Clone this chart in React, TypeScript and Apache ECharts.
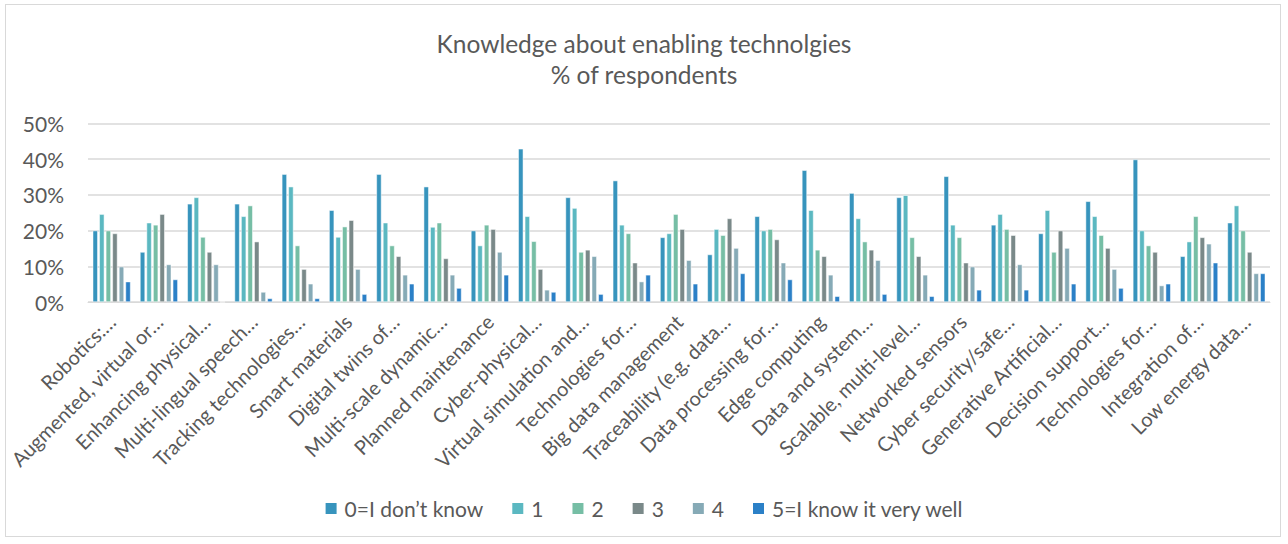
import React, { useEffect, useRef } from "react";
import * as echarts from "echarts";

const categories = [
  "Robotics:…",
  "Augmented, virtual or…",
  "Enhancing physical…",
  "Multi-lingual speech…",
  "Tracking technologies…",
  "Smart materials",
  "Digital twins of…",
  "Multi-scale dynamic…",
  "Planned maintenance",
  "Cyber-physical…",
  "Virtual simulation and…",
  "Technologies for…",
  "Big data management",
  "Traceability (e.g. data…",
  "Data processing for…",
  "Edge computing",
  "Data and system…",
  "Scalable, multi-level…",
  "Networked sensors",
  "Cyber security/safe…",
  "Generative Artificial…",
  "Decision support…",
  "Technologies for…",
  "Integration of…",
  "Low energy data…",
];

const seriesNames = ["0=I don\u2019t know", "1", "2", "3", "4", "5=I know it very well"];

const s0 = [20.0, 14.0, 27.5, 27.5, 35.8, 25.7, 35.8, 32.3, 20.0, 42.9, 29.3, 34.0, 18.1, 13.3, 24.0, 36.9, 30.5, 29.3, 35.2, 21.6, 19.2, 28.2, 39.9, 12.8, 22.2];
const s1 = [24.6, 22.2, 29.3, 24.0, 32.3, 18.2, 22.2, 21.0, 15.8, 24.0, 26.3, 21.6, 19.2, 20.4, 20.0, 25.7, 23.4, 29.9, 21.6, 24.6, 25.7, 24.0, 20.0, 16.9, 27.0];
const s2 = [20.0, 21.6, 18.2, 27.0, 15.8, 21.1, 15.8, 22.2, 21.6, 17.0, 14.0, 19.2, 24.6, 18.7, 20.4, 14.6, 16.9, 18.1, 18.1, 20.4, 14.0, 18.7, 15.8, 24.0, 20.0];
const s3 = [19.2, 24.6, 14.0, 16.9, 9.2, 22.9, 12.8, 12.2, 20.4, 9.2, 14.6, 11.0, 20.4, 23.4, 17.5, 12.8, 14.6, 12.8, 11.0, 18.7, 20.0, 15.1, 14.0, 18.1, 14.0];
const s4 = [9.9, 10.5, 10.5, 2.8, 5.1, 9.2, 7.6, 7.6, 14.0, 3.4, 12.8, 5.7, 11.7, 15.1, 11.0, 7.6, 11.7, 7.6, 9.9, 10.5, 15.1, 9.2, 4.6, 16.3, 8.0];
const s5 = [5.7, 6.3, 0, 1.0, 1.0, 2.2, 5.1, 3.9, 7.6, 2.8, 2.2, 7.6, 5.1, 8.0, 6.3, 1.6, 2.2, 1.6, 3.4, 3.4, 5.1, 3.9, 5.1, 11.0, 8.0];

const seriesData = [s0, s1, s2, s3, s4, s5];
const colors = ["#3794bd", "#5bb8c1", "#76bea5", "#7a8989", "#86aab6", "#2b80c7"];

const yTicks = [0, 10, 20, 30, 40, 50];

export default function App() {
  const ref = useRef<HTMLDivElement>(null);
  useEffect(() => {
    if (!ref.current) return;
    const chart = echarts.init(ref.current, null, { renderer: "svg" });
    const font = "Lato, 'Open Sans', sans-serif";
    chart.setOption({
      animation: false,
      color: colors,
      title: {
        text: "Knowledge about enabling technolgies\n% of respondents",
        left: "center",
        top: 23,
        textStyle: {
          color: "#595959",
          fontFamily: font,
          fontWeight: "normal",
          fontSize: 24.5,
          lineHeight: 31,
        },
      },
      legend: {
        top: 493,
        left: "center",
        itemWidth: 13,
        itemHeight: 13,
        itemGap: 27,
        icon: "rect",
        textStyle: { color: "#595959", fontFamily: font, fontSize: 21, padding: [0, 0, 0, 2] },
        data: seriesNames,
      },
      grid: { left: 88, right: 18, top: 123.5, bottom: 242, containLabel: false },
      xAxis: {
        type: "category",
        data: categories,
        axisTick: { show: false },
        axisLine: { lineStyle: { color: "#d9d9d9", width: 1 } },
        axisLabel: {
          rotate: 45,
          interval: 0,
          color: "#595959",
          fontFamily: font,
          fontSize: 20,
          margin: 16,
        },
      },
      yAxis: {
        type: "value",
        min: yTicks[0],
        max: yTicks[yTicks.length - 1],
        interval: 10,
        axisLine: { show: false },
        axisTick: { show: false },
        splitLine: { lineStyle: { color: "#d9d9d9", width: 1.5 } },
        axisLabel: {
          formatter: (v: number) => v + "%",
          color: "#595959",
          fontFamily: font,
          fontSize: 21,
          margin: 24,
        },
      },
      series: seriesNames.map((name, i) => ({
        name,
        type: "bar",
        data: seriesData[i],
        barGap: "30%",
        barCategoryGap: "20%",
        itemStyle: { color: colors[i], borderColor: "#ffffff", borderWidth: 0.5 },
      })),
    });
    return () => chart.dispose();
  }, []);
  return (
    <div style={{ position: "fixed", left: 0, top: 0, width: 1288, height: 544, background: "#fff" }}>
      <div ref={ref} style={{ position: "absolute", left: 0, top: 0, width: 1288, height: 544 }} />
      <div
        style={{
          position: "absolute",
          left: 5,
          top: 4,
          width: 1276,
          height: 533,
          border: "1px solid #d9d9d9",
          boxSizing: "border-box",
          pointerEvents: "none",
        }}
      />
    </div>
  );
}
